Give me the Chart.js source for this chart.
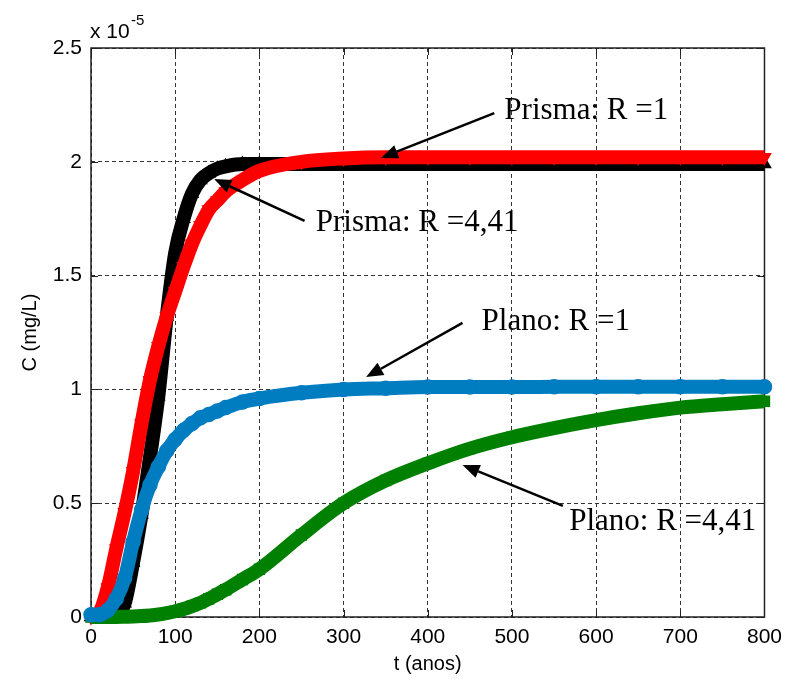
<!DOCTYPE html>
<html>
<head>
<meta charset="utf-8">
<script src="https://cdn.jsdelivr.net/npm/chart.js@4/dist/chart.umd.min.js"></script>
<style>
  html, body { margin: 0; padding: 0; background: #fff; }
  #wrap { width: 790px; height: 682px; }
</style>
</head>
<body>
<div id="wrap"><canvas id="chart"></canvas></div>
<script>
// time (anos) and concentration (x 1e-5 mg/L)
const tempo = [0, 10, 20, 30, 40, 50, 60, 70, 80, 90, 100, 110, 120, 130, 140, 150, 160, 180, 200, 250, 300, 350, 400, 450, 500, 550, 600, 650, 700, 750, 800];
const prismaR1 = [0, 0, 0, 0.01, 0.06, 0.24, 0.45, 0.7, 0.97, 1.32, 1.6, 1.75, 1.86, 1.92, 1.95, 1.97, 1.98, 1.99, 1.99, 1.99, 1.99, 1.99, 1.99, 1.99, 1.99, 1.99, 1.99, 1.99, 1.99, 1.99, 1.99];
const prismaR441 = [0, 0.02, 0.13, 0.3, 0.46, 0.64, 0.85, 1.04, 1.19, 1.32, 1.43, 1.54, 1.64, 1.72, 1.79, 1.83, 1.87, 1.92, 1.96, 2.0, 2.015, 2.02, 2.02, 2.02, 2.02, 2.02, 2.02, 2.02, 2.02, 2.02, 2.02];
const planoR1 = [0.01, 0.01, 0.03, 0.08, 0.17, 0.33, 0.47, 0.58, 0.66, 0.73, 0.78, 0.82, 0.85, 0.875, 0.89, 0.905, 0.92, 0.945, 0.96, 0.985, 1.0, 1.005, 1.01, 1.01, 1.01, 1.012, 1.012, 1.012, 1.012, 1.012, 1.012];
const planoR441 = [0, 0, 0, 0, 0.001, 0.002, 0.004, 0.007, 0.011, 0.017, 0.025, 0.035, 0.048, 0.062, 0.08, 0.1, 0.12, 0.165, 0.21, 0.36, 0.5, 0.6, 0.675, 0.74, 0.79, 0.83, 0.865, 0.895, 0.92, 0.935, 0.948];

const xTicks = [0, 100, 200, 300, 400, 500, 600, 700, 800];
const yTicks = [0, 0.5, 1, 1.5, 2, 2.5];

// annotation text + arrow (start -> tip), in data units
const notas = [
  { text: 'Prisma: R =1',    tx: 491, ty: 2.19,  from: [479, 2.214], to: [344.5, 2.017] },
  { text: 'Prisma: R =4,41', tx: 267, ty: 1.696, from: [253.7, 1.74], to: [146.3, 1.924] },
  { text: 'Plano: R =1',     tx: 464, ty: 1.261, from: [441.3, 1.292], to: [326.8, 1.054] },
  { text: 'Plano: R =4,41',  tx: 568, ty: 0.382, from: [560.5, 0.488], to: [441.3, 0.668] }
];

function pts(ys) { return tempo.map((t, i) => ({ x: t, y: ys[i] })); }

function serie(ys, color, style, rot) {
  return {
    data: pts(ys),
    borderColor: color,
    backgroundColor: color,
    borderWidth: 14,
    pointStyle: style,
    rotation: rot || 0,
    pointRadius: 7,
    pointBorderWidth: 1.5,
    pointBackgroundColor: color,
    pointBorderColor: color,
    cubicInterpolationMode: 'monotone',
    clip: false
  };
}

const decor = {
  id: 'decor',
  beforeDatasetsDraw(chart) {
    const { ctx, chartArea: a, scales: { x, y } } = chart;
    ctx.save();
    ctx.strokeStyle = '#222';
    ctx.lineWidth = 1;
    ctx.beginPath();
    xTicks.forEach(v => {
      const px = Math.round(x.getPixelForValue(v)) + 0.5;
      ctx.moveTo(px, a.bottom); ctx.lineTo(px, a.bottom - 7);
      ctx.moveTo(px, a.top); ctx.lineTo(px, a.top + 7);
    });
    yTicks.forEach(v => {
      const py = Math.round(y.getPixelForValue(v)) + 0.5;
      ctx.moveTo(a.left, py); ctx.lineTo(a.left + 7, py);
      ctx.moveTo(a.right, py); ctx.lineTo(a.right - 7, py);
    });
    ctx.stroke();
    ctx.lineWidth = 1.5;
    ctx.strokeRect(a.left, a.top, a.right - a.left, a.bottom - a.top);
    ctx.restore();
  },
  afterDraw(chart) {
    const { ctx, chartArea: a, scales: { x, y } } = chart;
    ctx.save();
    // exponent label
    ctx.fillStyle = '#000';
    ctx.textBaseline = 'alphabetic';
    ctx.font = '21px "Liberation Sans", Arial, sans-serif';
    ctx.fillText('x 10', a.left - 1, a.top - 10);
    ctx.font = '15px "Liberation Sans", Arial, sans-serif';
    ctx.fillText('-5', a.left + 40, a.top - 23);

    ctx.font = '31px "Liberation Serif", "Times New Roman", serif';
    ctx.strokeStyle = '#000';
    ctx.lineWidth = 2.5;
    notas.forEach(n => {
      const x0 = x.getPixelForValue(n.from[0]), y0 = y.getPixelForValue(n.from[1]);
      const x1 = x.getPixelForValue(n.to[0]),   y1 = y.getPixelForValue(n.to[1]);
      const ang = Math.atan2(y1 - y0, x1 - x0);
      const hl = 17, hw = 7;
      const bx = x1 - hl * Math.cos(ang), by = y1 - hl * Math.sin(ang);
      ctx.beginPath();
      ctx.moveTo(x0, y0); ctx.lineTo(bx, by);
      ctx.stroke();
      ctx.beginPath();
      ctx.moveTo(x1, y1);
      ctx.lineTo(bx + hw * Math.sin(ang), by - hw * Math.cos(ang));
      ctx.lineTo(bx - hw * Math.sin(ang), by + hw * Math.cos(ang));
      ctx.closePath();
      ctx.fill();
      ctx.fillText(n.text, x.getPixelForValue(n.tx), y.getPixelForValue(n.ty));
    });
    ctx.restore();
  }
};

const tickFont = { family: '"Liberation Sans", Arial, sans-serif', size: 21 };

new Chart(document.getElementById('chart'), {
  type: 'line',
  data: {
    datasets: [
      serie(planoR1, '#007cc1', 'circle'),
      serie(planoR441, '#008000', 'rect'),
      serie(prismaR441, '#ff0000', 'triangle', 180),
      serie(prismaR1, '#000000', 'triangle')
    ]
  },
  options: {
    responsive: true,
    maintainAspectRatio: false,
    animation: false,
    layout: { padding: { top: 48, right: 21, left: 0, bottom: 0 } },
    plugins: { legend: { display: false }, tooltip: { enabled: false } },
    scales: {
      x: {
        type: 'linear',
        min: 0, max: 800,
        afterBuildTicks: s => { s.ticks = xTicks.map(v => ({ value: v })); },
        afterFit: s => { s.height = 65; },
        ticks: { color: '#000', font: tickFont, padding: 8, autoSkip: false, maxRotation: 0 },
        grid: { color: '#333', lineWidth: 1, drawTicks: false },
        border: { display: false, dash: [4, 3] },
        title: { display: true, text: 't (anos)', color: '#000', font: { family: '"Liberation Sans", Arial, sans-serif', size: 20 }, padding: { top: 0, bottom: 6 } }
      },
      y: {
        min: 0, max: 2.5,
        afterBuildTicks: s => { s.ticks = yTicks.map(v => ({ value: v })); },
        afterFit: s => { s.width = 91; },
        ticks: { color: '#000', font: tickFont, padding: 9, callback: v => String(v) },
        grid: { color: '#333', lineWidth: 1, drawTicks: false },
        border: { display: false, dash: [4, 3] },
        title: { display: true, text: 'C (mg/L)', color: '#000', font: { family: '"Liberation Sans", Arial, sans-serif', size: 20 }, padding: { top: 18, bottom: 0 } }
      }
    }
  },
  plugins: [decor]
});
</script>
</body>
</html>
